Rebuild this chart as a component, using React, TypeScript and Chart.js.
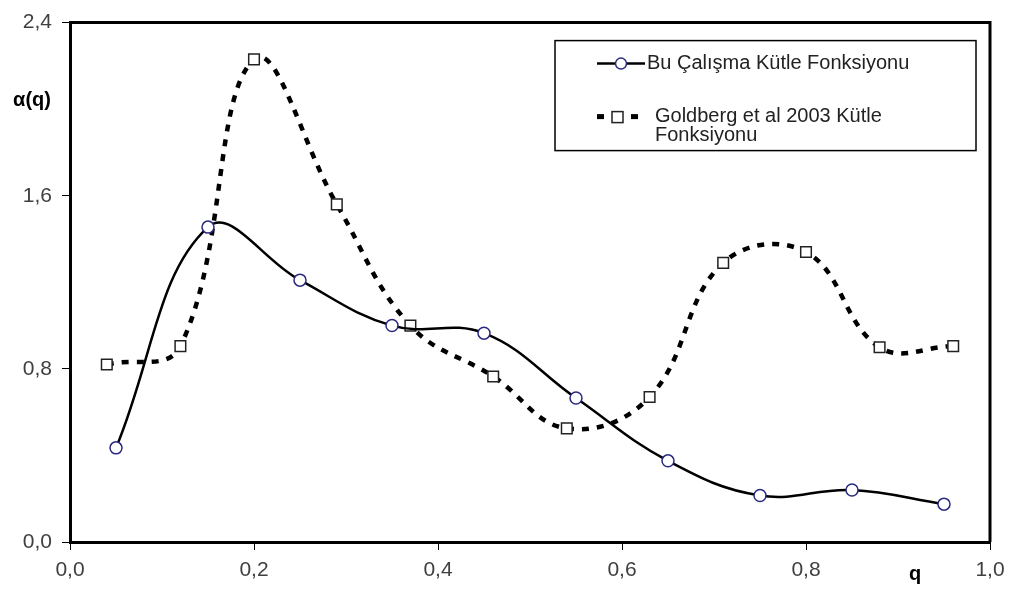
import React, { useEffect, useRef } from "react";
import { Chart, registerables } from "chart.js";

Chart.register(...registerables);

const seriesLabels = ["Bu Çalışma Kütle Fonksiyonu", "Goldberg et al 2003 Kütle Fonksiyonu"];
const legendLines2 = ["Goldberg et al 2003 Kütle", "Fonksiyonu"];

const xCircle = [0.05, 0.15, 0.25, 0.35, 0.45, 0.55, 0.65, 0.75, 0.85, 0.95];
const yCircle = [0.435, 1.455, 1.21, 1.0, 0.965, 0.665, 0.375, 0.215, 0.24, 0.175];

const xSquare = [0.04, 0.12, 0.2, 0.29, 0.37, 0.46, 0.54, 0.63, 0.71, 0.8, 0.88, 0.96];
const ySquare = [0.82, 0.905, 2.23, 1.56, 1.0, 0.765, 0.525, 0.67, 1.29, 1.34, 0.9, 0.905];

const xTickValues = [0, 0.2, 0.4, 0.6, 0.8, 1.0];
const yTickValues = [0, 0.8, 1.6, 2.4];

const xTitle = "q";
const yTitle = "α(q)";

const FONT = "'Liberation Sans', Arial, sans-serif";
const fmt = (v: number) => Number(v).toFixed(1).replace(".", ",");

const framePlugin = {
  id: "frame",
  beforeDatasetsDraw(chart: any) {
    const { ctx, chartArea: ca } = chart;
    ctx.save();
    ctx.strokeStyle = "#000";
    ctx.lineWidth = 3;
    ctx.beginPath();
    ctx.moveTo(ca.left, ca.top);
    ctx.lineTo(ca.right, ca.top);
    ctx.lineTo(ca.right, ca.bottom);
    ctx.stroke();
    ctx.restore();
  },
  afterDraw(chart: any) {
    const { ctx, chartArea: ca } = chart;
    ctx.save();
    // axis titles
    ctx.fillStyle = "#000";
    ctx.font = `bold 20px ${FONT}`;
    ctx.textAlign = "center";
    ctx.textBaseline = "middle";
    ctx.fillText(yTitle, 32, 100);
    ctx.fillText(xTitle, 915, 574);

    // legend
    const bx = ca.left + 485;
    const by = ca.top + 18;
    const bw = 421;
    const bh = 110;
    ctx.fillStyle = "#fff";
    ctx.fillRect(bx, by, bw, bh);
    ctx.strokeStyle = "#000";
    ctx.lineWidth = 1.5;
    ctx.strokeRect(bx, by, bw, bh);

    const sx = bx + 42;
    const r1 = by + 23;
    // entry 1
    ctx.strokeStyle = "#000";
    ctx.lineWidth = 2.5;
    ctx.beginPath();
    ctx.moveTo(sx, r1);
    ctx.lineTo(sx + 48, r1);
    ctx.stroke();
    ctx.beginPath();
    ctx.arc(sx + 24, r1, 5.5, 0, Math.PI * 2);
    ctx.fillStyle = "#fff";
    ctx.fill();
    ctx.strokeStyle = "#2a2a80";
    ctx.lineWidth = 1.5;
    ctx.stroke();

    ctx.fillStyle = "#222";
    ctx.font = `20px ${FONT}`;
    ctx.textAlign = "left";
    ctx.textBaseline = "middle";
    ctx.fillText(seriesLabels[0], sx + 50, r1);

    // entry 2
    const r2 = by + 76;
    ctx.fillStyle = "#000";
    ctx.fillRect(sx, r2 - 2.5, 7, 5);
    ctx.fillRect(sx + 34, r2 - 2.5, 7, 5);
    ctx.fillStyle = "#fff";
    ctx.fillRect(sx + 15, r2 - 5, 11, 11);
    ctx.strokeStyle = "#222";
    ctx.lineWidth = 1.5;
    ctx.strokeRect(sx + 15, r2 - 5, 11, 11);
    ctx.fillStyle = "#222";
    ctx.fillText(legendLines2[0], sx + 58, r2);
    ctx.fillText(legendLines2[1], sx + 58, r2 + 19);
    ctx.restore();
  },
};

export default function App() {
  const ref = useRef<HTMLCanvasElement | null>(null);
  useEffect(() => {
    if (!ref.current) return;
    const chart = new Chart(ref.current, {
      type: "line",
      data: {
        datasets: [
          {
            label: seriesLabels[0],
            data: xCircle.map((x, i) => ({ x, y: yCircle[i] })),
            borderColor: "#000",
            borderWidth: 2.5,
            tension: 0.4,
            pointStyle: "circle",
            pointRadius: 6,
            pointBorderColor: "#2a2a80",
            pointBorderWidth: 1.5,
            pointBackgroundColor: "#fff",
            fill: false,
          },
          {
            label: seriesLabels[1],
            data: xSquare.map((x, i) => ({ x, y: ySquare[i] })),
            borderColor: "#000",
            borderWidth: 4.5,
            borderDash: [7, 8],
            tension: 0.4,
            pointStyle: "rect",
            pointRadius: 7.5,
            pointBorderColor: "#222",
            pointBorderWidth: 1.5,
            pointBackgroundColor: "#fff",
            fill: false,
          },
        ],
      },
      options: {
        responsive: false,
        animation: false,
        layout: { padding: { top: 18, right: 23, left: 0, bottom: 0 } },
        plugins: { legend: { display: false }, tooltip: { enabled: false }, title: { display: false } },
        scales: {
          x: {
            type: "linear",
            min: 0,
            max: 1,
            afterFit: (s: any) => {
              s.height = 48;
            },
            afterBuildTicks: (s: any) => {
              s.ticks = xTickValues.map((v) => ({ value: v }));
            },
            grid: { display: true, drawOnChartArea: false, drawTicks: true, tickLength: 8, color: "#000", lineWidth: 1 },
            border: { display: true, color: "#000", width: 3 },
            ticks: {
              color: "#404040",
              padding: 8,
              font: { family: FONT, size: 21 },
              callback: (v: any) => fmt(v),
              maxRotation: 0,
            },
          },
          y: {
            type: "linear",
            min: 0,
            max: 2.4,
            afterFit: (s: any) => {
              s.width = 70;
            },
            afterBuildTicks: (s: any) => {
              s.ticks = yTickValues.map((v) => ({ value: v }));
            },
            grid: { display: true, drawOnChartArea: false, drawTicks: true, tickLength: 8, color: "#000", lineWidth: 1 },
            border: { display: true, color: "#000", width: 3 },
            ticks: {
              color: "#404040",
              padding: 10,
              font: { family: FONT, size: 21 },
              callback: (v: any) => fmt(v),
            },
          },
        },
      },
      plugins: [framePlugin],
    });
    return () => chart.destroy();
  }, []);
  return (
    <div style={{ position: "fixed", left: 0, top: 0, width: 1013, height: 590, background: "#fff" }}>
      <canvas ref={ref} width={1013} height={590} />
    </div>
  );
}
